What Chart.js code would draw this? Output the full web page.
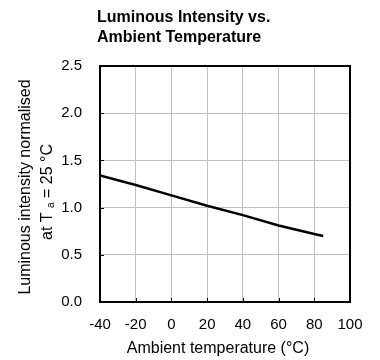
<!DOCTYPE html>
<html>
<head>
<meta charset="utf-8">
<script src="https://cdn.jsdelivr.net/npm/chart.js@4"></script>
<style>
  html, body { margin: 0; padding: 0; background: #ffffff; }
  #wrap { width: 380px; height: 360px; position: relative; }
</style>
</head>
<body>
<div id="wrap"><canvas id="chart" width="380" height="360"></canvas></div>
<script>
// Relative luminous intensity (normalised at Ta = 25 °C) against ambient temperature
const temperature = [-40, -20, 0, 20, 40, 60, 80, 85];
const intensity = [1.34, 1.24, 1.13, 1.02, 0.92, 0.81, 0.72, 0.70];

const xTickValues = [-40, -20, 0, 20, 40, 60, 80, 100];
const yTickValues = [0, 0.5, 1.0, 1.5, 2.0, 2.5];

const titleLines = ['Luminous Intensity vs.', 'Ambient Temperature'];
const xAxisTitle = 'Ambient temperature (°C)';
const yAxisTitleLine1 = 'Luminous intensity normalised';

const FONT = '"Liberation Sans", Arial, Helvetica, sans-serif';

const points = temperature.map((t, i) => ({ x: t, y: intensity[i] }));

// Titles, axis titles and inward tick marks
const decorations = {
  id: 'decorations',
  afterDraw(chart) {
    const ctx = chart.ctx;
    const area = chart.chartArea;
    const xs = chart.scales.x;
    const ys = chart.scales.y;
    ctx.save();

    // short inward tick marks
    ctx.strokeStyle = '#000';
    ctx.lineWidth = 1;
    ctx.beginPath();
    xTickValues.forEach(v => {
      const px = Math.round(xs.getPixelForValue(v)) + 0.5;
      ctx.moveTo(px, area.bottom);
      ctx.lineTo(px, area.bottom - 4);
    });
    yTickValues.forEach(v => {
      const py = Math.round(ys.getPixelForValue(v)) + 0.5;
      ctx.moveTo(area.left, py);
      ctx.lineTo(area.left + 4, py);
    });
    ctx.stroke();

    // chart title
    ctx.fillStyle = '#000';
    ctx.textAlign = 'left';
    ctx.textBaseline = 'alphabetic';
    ctx.font = 'bold 16px ' + FONT;
    ctx.fillText(titleLines[0], 97, 22);
    ctx.fillText(titleLines[1], 97, 42);

    // x axis title
    ctx.font = '16px ' + FONT;
    ctx.textAlign = 'center';
    ctx.fillText(xAxisTitle, 218, 353);

    // y axis title, two rotated lines
    ctx.save();
    ctx.rotate(-Math.PI / 2);
    ctx.textAlign = 'center';
    ctx.fillText(yAxisTitleLine1, -187, 30);

    // second line with subscript a
    const parts = [
      { t: 'at T ', size: 16, dy: 0 },
      { t: 'a', size: 10, dy: 2 },
      { t: ' = 25 °C', size: 16, dy: 0 }
    ];
    let total = 0;
    parts.forEach(p => { ctx.font = p.size + 'px ' + FONT; p.w = ctx.measureText(p.t).width; total += p.w; });
    let cx = -192 - total / 2;
    ctx.textAlign = 'left';
    parts.forEach(p => {
      ctx.font = p.size + 'px ' + FONT;
      ctx.fillText(p.t, cx, 52 + p.dy);
      cx += p.w;
    });
    ctx.restore();

    // plot frame
    ctx.strokeStyle = '#000';
    ctx.lineWidth = 2;
    ctx.strokeRect(area.left, area.top, area.right - area.left, area.bottom - area.top);
    ctx.restore();
  }
};

new Chart(document.getElementById('chart'), {
  type: 'line',
  data: {
    datasets: [{
      data: points,
      borderColor: '#000',
      borderWidth: 2.5,
      pointRadius: 0,
      tension: 0,
      fill: false
    }]
  },
  options: {
    responsive: false,
    animation: false,
    devicePixelRatio: 1,
    layout: { padding: { top: 66, right: 30, left: 0, bottom: 0 } },
    plugins: {
      legend: { display: false },
      tooltip: { enabled: false },
      title: { display: false }
    },
    scales: {
      x: {
        type: 'linear',
        min: -40,
        max: 100,
        afterBuildTicks(scale) { scale.ticks = xTickValues.map(v => ({ value: v })); },
        afterFit(scale) { scale.height = 58; },
        grid: { color: '#c0c0c0', lineWidth: 1, drawTicks: false },
        border: { display: false },
        ticks: {
          color: '#000',
          padding: 14,
          maxRotation: 0,
          font: { family: FONT, size: 15 },
          callback: v => String(v)
        }
      },
      y: {
        min: 0,
        max: 2.5,
        afterBuildTicks(scale) { scale.ticks = yTickValues.map(v => ({ value: v })); },
        afterFit(scale) { scale.width = 100; },
        grid: { color: '#c0c0c0', lineWidth: 1, drawTicks: false },
        border: { display: false },
        ticks: {
          color: '#000',
          padding: 18,
          font: { family: FONT, size: 15 },
          callback: v => Number(v).toFixed(1)
        }
      }
    }
  },
  plugins: [decorations]
});
</script>
</body>
</html>
